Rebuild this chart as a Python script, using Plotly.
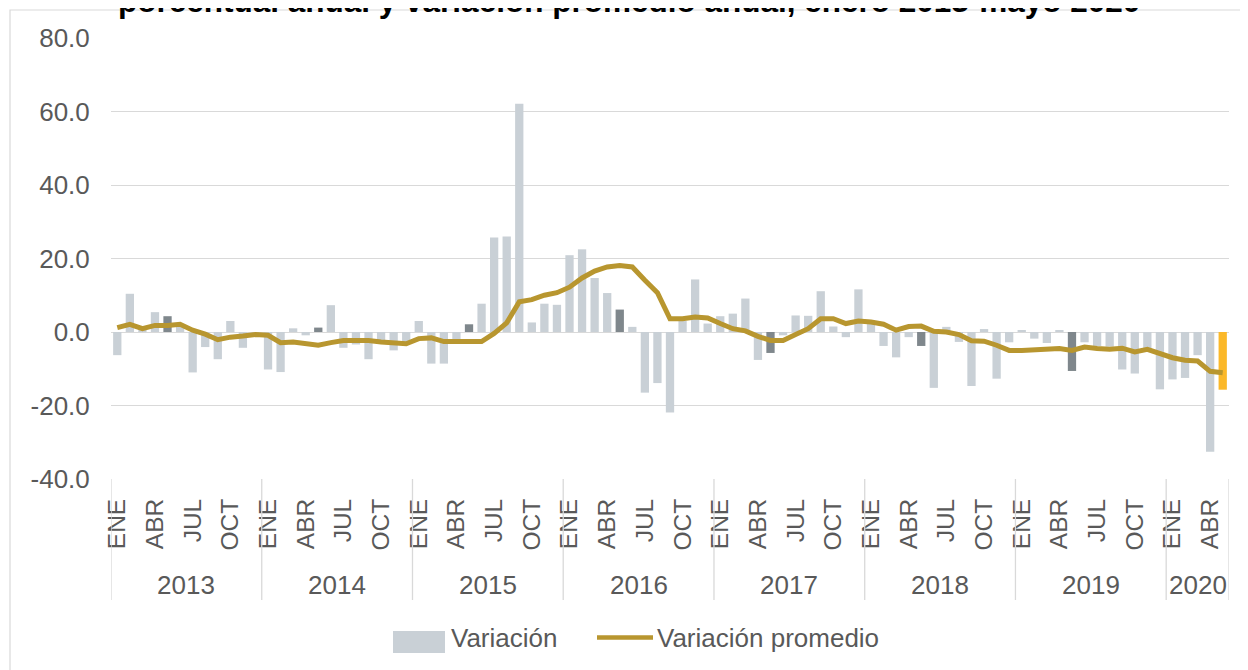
import plotly.graph_objects as go

# ---------------- data ----------------
years = [2013, 2014, 2015, 2016, 2017, 2018, 2019, 2020]
months = ["ENE", "FEB", "MAR", "ABR", "MAY", "JUN", "JUL", "AGO", "SEP", "OCT", "NOV", "DIC"]
tick_months = ["ENE", "ABR", "JUL", "OCT"]
months_2020 = 5  # enero-mayo 2020
y_ticks = [-40, -20, 0, 20, 40, 60, 80]

variacion = [
    # 2013
    -6.3, 10.4, 1.0, 5.4, 4.3, 1.5, -11.0, -4.1, -7.4, 3.0, -4.3, -0.8,
    # 2014
    -10.2, -10.9, 1.0, -0.9, 1.2, 7.3, -4.3, -3.4, -7.4, -3.2, -5.0, -3.2,
    # 2015
    3.0, -8.6, -8.6, -2.5, 2.1, 7.7, 25.7, 26.0, 62.1, 2.6, 7.7, 7.4,
    # 2016
    20.9, 22.5, 14.7, 10.6, 6.1, 1.4, -16.5, -13.9, -21.9, 3.0, 14.3, 2.3,
    # 2017
    4.3, 5.0, 9.1, -7.6, -5.7, -0.9, 4.5, 4.4, 11.1, 1.5, -1.4, 11.6,
    # 2018
    2.5, -3.8, -6.9, -1.4, -3.8, -15.2, 1.4, -2.7, -14.7, 0.8, -12.7, -2.8,
    # 2019
    0.5, -1.8, -3.0, 0.5, -10.6, -2.8, -3.8, -4.0, -10.2, -11.3, -4.5, -15.6,
    # 2020
    -12.9, -12.5, -6.3, -32.6, -15.7,
]

variacion_promedio = [
    # 2013
    1.2, 2.1, 0.9, 1.8, 1.8, 2.1, 0.5, -0.6, -2.1, -1.4, -1.1, -0.7,
    # 2014
    -0.9, -2.9, -2.7, -3.2, -3.6, -2.9, -2.3, -2.3, -2.3, -2.7, -2.9, -3.2,
    # 2015
    -1.8, -1.6, -2.6, -2.6, -2.6, -2.6, -0.4, 2.5, 8.2, 8.8, 10.0, 10.7,
    # 2016
    12.2, 14.7, 16.6, 17.7, 18.1, 17.7, 14.1, 10.7, 3.6, 3.6, 4.1, 3.8,
    # 2017
    2.3, 0.9, 0.3, -1.2, -2.3, -2.3, -0.7, 0.9, 3.6, 3.6, 2.3, 3.0,
    # 2018
    2.7, 2.1, 0.5, 1.5, 1.6, 0.2, 0.0, -0.7, -2.4, -2.5, -3.6, -5.0,
    # 2019
    -5.0, -4.8, -4.7, -4.5, -5.0, -4.1, -4.5, -4.7, -4.4, -5.4, -4.7, -5.9,
    # 2020
    -7.0, -7.7, -7.9, -10.7, -11.1,
]

title_text = "porcentual anual y variación promedio anual, enero 2013-mayo 2020"
legend_labels = ["Variación", "Variación promedio"]

# ---------------- styles ----------------
FONT = "Liberation Sans, Arial, sans-serif"
TXT = "#595959"
GRID = "#d9d9d9"
BAR_COLOR = "#c9d0d6"
BAR_HIGHLIGHT = "#7f878c"
BAR_LAST = "#fbb829"
LINE_COLOR = "#b8962f"

# build categories
periods = []      # (year, month)
for y in years:
    n = months_2020 if y == 2020 else 12
    for m in months[:n]:
        periods.append((y, m))
categories = [f"{m} {y}" for (y, m) in periods]

bar_colors = []
for k, (y, m) in enumerate(periods):
    if k == len(periods) - 1:
        bar_colors.append(BAR_LAST)
    elif m == "MAY":
        bar_colors.append(BAR_HIGHLIGHT)
    else:
        bar_colors.append(BAR_COLOR)

tickvals = [c for c, (y, m) in zip(categories, periods) if m in tick_months]
ticktext = [m for (y, m) in periods if m in tick_months]

W, H = 1248, 670
L, T = 103, 30          # page has an 8px body margin
PW, PH = 1118, 441
R, B = W - L - PW, H - T - PH


def px_x(wx):
    # window pixel -> paper x
    return (wx - 8 - L) / PW


def px_y(wy):
    # window pixel -> paper y
    return (T + PH - (wy - 8)) / PH


fig = go.Figure()
fig.add_trace(go.Bar(
    x=categories, y=variacion, name=legend_labels[0],
    marker=dict(color=bar_colors, line=dict(width=0)),
    showlegend=False,
))
fig.add_trace(go.Scatter(
    x=categories, y=variacion_promedio, name=legend_labels[1],
    mode="lines", line=dict(color=LINE_COLOR, width=5),
    showlegend=False,
))

shapes = []
annotations = []

# year separators and labels
idx = 0
for y in years:
    n = months_2020 if y == 2020 else 12
    shapes.append(dict(type="line", xref="x", yref="paper",
                       x0=idx - 0.5, x1=idx - 0.5, y0=0, y1=px_y(600),
                       line=dict(color=GRID, width=1.3)))
    annotations.append(dict(xref="x", yref="paper", x=idx + (n - 1) / 2, y=px_y(585),
                            text=str(y), showarrow=False, yanchor="middle",
                            font=dict(family=FONT, size=26, color=TXT)))
    idx += n
shapes.append(dict(type="line", xref="x", yref="paper",
                   x0=idx - 0.5, x1=idx - 0.5, y0=0, y1=px_y(600),
                   line=dict(color=GRID, width=1.3)))

# outer chart border (partly cropped in the reference)
shapes.append(dict(type="rect", xref="paper", yref="paper",
                   x0=px_x(10), x1=px_x(1262), y0=px_y(700), y1=px_y(10),
                   line=dict(color=GRID, width=1.2), fillcolor="rgba(0,0,0,0)", layer="below"))

# custom legend
shapes.append(dict(type="rect", xref="paper", yref="paper",
                   x0=px_x(393), x1=px_x(445), y0=px_y(653), y1=px_y(631),
                   fillcolor=BAR_COLOR, line=dict(width=0)))
shapes.append(dict(type="line", xref="paper", yref="paper",
                   x0=px_x(597), x1=px_x(653), y0=px_y(637.5), y1=px_y(637.5),
                   line=dict(color=LINE_COLOR, width=4.5)))
annotations.append(dict(xref="paper", yref="paper", x=px_x(449), y=px_y(638),
                        text=legend_labels[0], showarrow=False, xanchor="left", yanchor="middle",
                        font=dict(family=FONT, size=26, color=TXT)))
annotations.append(dict(xref="paper", yref="paper", x=px_x(655), y=px_y(638),
                        text=legend_labels[1], showarrow=False, xanchor="left", yanchor="middle",
                        font=dict(family=FONT, size=26, color=TXT)))

# title (cropped at the top in the reference)
annotations.append(dict(xref="paper", yref="paper", x=px_x(629), y=px_y(21),
                        text="<b>" + title_text + "</b>", showarrow=False,
                        xanchor="center", yanchor="bottom",
                        font=dict(family=FONT, size=31.5, color="#000000")))

fig.update_layout(
    width=W, height=H,
    margin=dict(l=L, r=R, t=T, b=B, pad=0),
    paper_bgcolor="white", plot_bgcolor="white",
    bargap=0.34,
    showlegend=False,
    shapes=shapes,
    annotations=annotations,
    font=dict(family=FONT, color=TXT),
)
fig.update_xaxes(
    type="category", categoryorder="array", categoryarray=categories,
    range=[-0.5, len(categories) - 0.5],
    tickmode="array", tickvals=tickvals, ticktext=ticktext,
    tickangle=-90, tickfont=dict(family=FONT, size=24.5, color=TXT),
    showgrid=False, zeroline=False, showline=False,
    ticks="outside", ticklen=9, tickcolor="rgba(0,0,0,0)",
)
fig.update_yaxes(
    range=[-40, 80], tickmode="array", tickvals=y_ticks,
    ticktext=[f"{v:.1f}" for v in y_ticks],
    tickfont=dict(family=FONT, size=26, color=TXT),
    showgrid=True, gridcolor=GRID, gridwidth=1.3,
    zeroline=True, zerolinecolor=GRID, zerolinewidth=1.3,
    showline=False,
    ticks="outside", ticklen=15, tickcolor="rgba(0,0,0,0)",
)

fig.write_html("out.html")
